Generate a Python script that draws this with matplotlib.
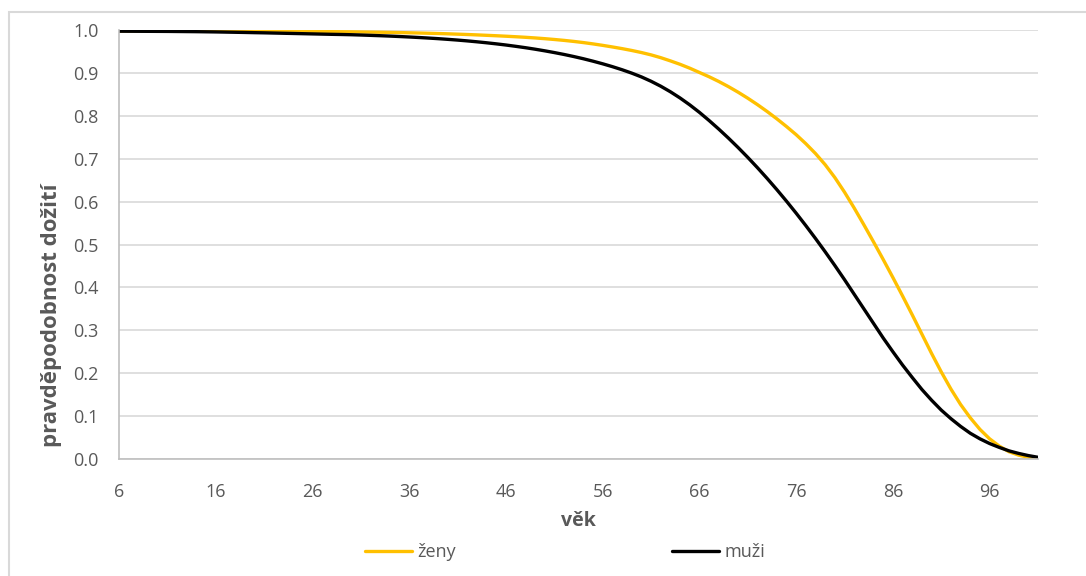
import matplotlib
matplotlib.use("Agg")
import matplotlib.pyplot as plt
import matplotlib.patches as mpatches

# ages 6..101, survival probability
vek = list(range(6, 102))

zeny = [0.9980, 0.9980, 0.9980, 0.9979, 0.9979, 0.9979, 0.9978, 0.9978, 0.9977, 0.9977,   # 6-15
        0.9976, 0.9976, 0.9975, 0.9974, 0.9973, 0.9972, 0.9971, 0.9970, 0.9969, 0.9967,   # 16-25
        0.9965, 0.9963, 0.9961, 0.9959, 0.9957, 0.9954, 0.9951, 0.9948, 0.9944, 0.9940,   # 26-35
        0.9935, 0.9930, 0.9924, 0.9918, 0.9911, 0.9903, 0.9895, 0.9886, 0.9876, 0.9866,   # 36-45
        0.9855, 0.9843, 0.9830, 0.9815, 0.9798, 0.9779, 0.9758, 0.9734, 0.9707, 0.9676,   # 46-55
        0.9642, 0.9605, 0.9566, 0.9523, 0.9475, 0.9420, 0.9355, 0.9280, 0.9200, 0.9110,   # 56-65
        0.901, 0.891, 0.880, 0.868, 0.855, 0.841, 0.826, 0.810, 0.793, 0.775,   # 66-75
        0.756, 0.735, 0.712, 0.686, 0.656, 0.622, 0.585, 0.546, 0.506, 0.465,   # 76-85
        0.423, 0.380, 0.336, 0.291, 0.246, 0.203, 0.163, 0.127, 0.096, 0.069,   # 86-95
        0.047, 0.030, 0.017, 0.009, 0.004, 0.001]                               # 96-101

muzi = [0.9972, 0.9971, 0.9970, 0.9969, 0.9968, 0.9967, 0.9965, 0.9963, 0.9961, 0.9958,   # 6-15
        0.9955, 0.9951, 0.9947, 0.9943, 0.9938, 0.9934, 0.9929, 0.9924, 0.9919, 0.9914,   # 16-25
        0.9909, 0.9904, 0.9899, 0.9895, 0.9890, 0.9883, 0.9875, 0.9867, 0.9858, 0.9848,   # 26-35
        0.9837, 0.9825, 0.9812, 0.9798, 0.9782, 0.9765, 0.9746, 0.9725, 0.9702, 0.9677,   # 36-45
        0.9650, 0.9620, 0.9588, 0.9553, 0.9515, 0.9474, 0.9430, 0.9382, 0.9330, 0.9273,   # 46-55
        0.9212, 0.9146, 0.9074, 0.8995, 0.8907, 0.8805, 0.8690, 0.8560, 0.8415, 0.8255,   # 56-65
        0.808, 0.789, 0.769, 0.748, 0.726, 0.703, 0.679, 0.654, 0.628, 0.601,   # 66-75
        0.573, 0.544, 0.514, 0.483, 0.451, 0.418, 0.384, 0.350, 0.316, 0.282,   # 76-85
        0.250, 0.219, 0.190, 0.162, 0.137, 0.114, 0.094, 0.076, 0.060, 0.047,   # 86-95
        0.036, 0.027, 0.019, 0.013, 0.008, 0.004]                               # 96-101

xticks = list(range(6, 97, 10))
yticks = [0.0, 0.1, 0.2, 0.3, 0.4, 0.5, 0.6, 0.7, 0.8, 0.9, 1.0]

grey = "#595959"
plt.rcParams["font.family"] = ["Open Sans", "DejaVu Sans"]

fig = plt.figure(figsize=(10.86, 5.76), dpi=100)
ax = fig.add_axes([119/1086, 1-459/576, (1038-119)/1086, (459-30)/576])

ax.plot(vek, zeny, color="#FFC000", lw=2.4, label="ženy", solid_capstyle="round")
ax.plot(vek, muzi, color="#000000", lw=2.4, label="muži", solid_capstyle="round")

ax.set_xlim(6, 101)
ax.set_ylim(0, 1)
ax.set_xticks(xticks)
ax.set_yticks(yticks)
ax.set_yticklabels([f"{v:.1f}" for v in yticks])
ax.tick_params(length=0, labelsize=13, colors=grey)
ax.tick_params(axis="x", pad=17)
ax.tick_params(axis="y", pad=14.5)
ax.grid(axis="y", color="#d9d9d9", lw=1.2)
ax.set_axisbelow(True)
for s in ["top", "right"]:
    ax.spines[s].set_visible(False)
for s in ["left", "bottom"]:
    ax.spines[s].set_color("#bfbfbf")
    ax.spines[s].set_linewidth(1.2)

fig.text(578/1086, 1-521/576, "věk", ha="center", va="center",
         fontsize=14, fontweight="bold", color=grey)
fig.text(52/1086, 1-315/576, "pravděpodobnost dožití", ha="center", va="center",
         rotation=90, fontsize=16, fontweight="bold", color=grey)

fig.legend(loc="center", bbox_to_anchor=(565/1086, 1-552/576), ncol=2, frameon=False,
           fontsize=13, labelcolor=grey, handlelength=2.6, handletextpad=0.3,
           columnspacing=12)

# light border round the chart area (cut off at right and bottom)
fig.patches.append(mpatches.Rectangle((9/1086, -0.1), 1.2, 1.1-12/576,
                                      transform=fig.transFigure, fill=False,
                                      edgecolor="#d9d9d9", lw=1.5))

fig.savefig("out.png", dpi=100)
